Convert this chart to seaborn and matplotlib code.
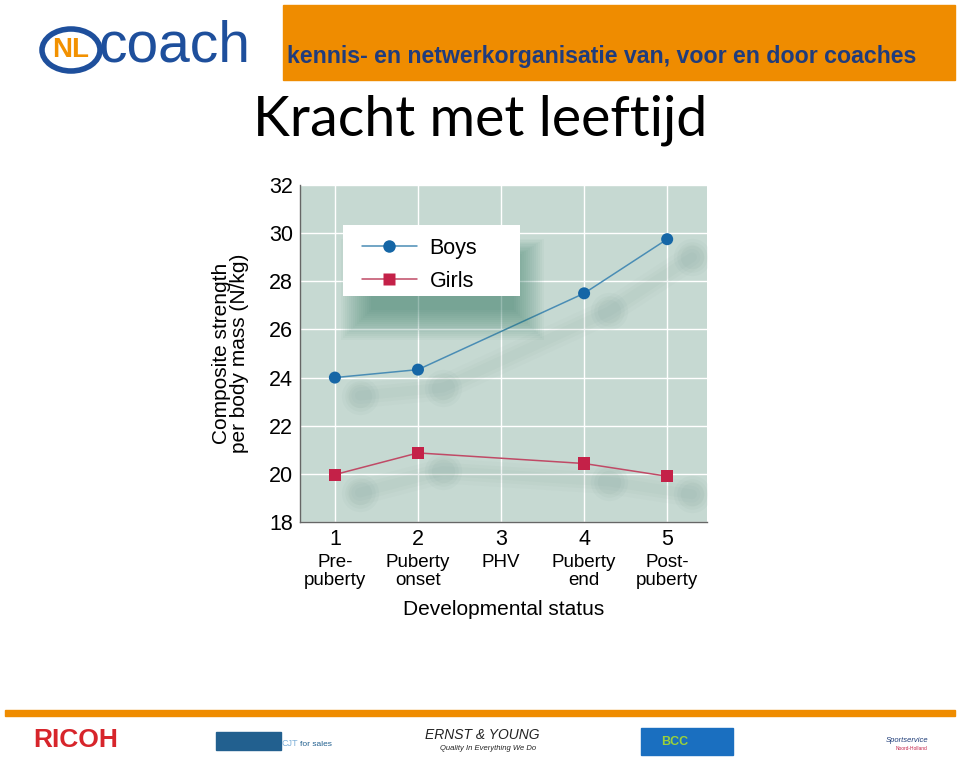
import pandas as pd
import seaborn as sns
import matplotlib.pyplot as plt
from matplotlib.patches import Rectangle, Ellipse
from matplotlib.lines import Line2D
from matplotlib.transforms import blended_transform_factory

stages = [1, 2, 4, 5]
boys = [24.0, 24.33, 27.5, 29.75]
girls = [19.97, 20.87, 20.43, 19.9]
tick_numbers = [1, 2, 3, 4, 5]
stage_names = ["Pre-\npuberty", "Puberty\nonset", "PHV", "Puberty\nend", "Post-\npuberty"]
y_ticks = [18, 20, 22, 24, 26, 28, 30, 32]

df = pd.concat([
    pd.DataFrame({"stage": stages, "strength": boys, "sex": "Boys"}),
    pd.DataFrame({"stage": stages, "strength": girls, "sex": "Girls"}),
])

sns.set_style("white")
plt.rcParams["font.family"] = ["Liberation Sans", "DejaVu Sans"]
plt.rcParams["text.color"] = "black"
plt.rcParams["axes.labelcolor"] = "black"
plt.rcParams["xtick.color"] = "black"
plt.rcParams["ytick.color"] = "black"

fig = plt.figure(figsize=(9.6, 7.69), dpi=100)
ax = fig.add_axes([0.3125, 0.3212, 0.424, 0.4382])
ax.set_facecolor("#c6d9d2")

palette = {"Boys": "#1566a6", "Girls": "#c42148"}
line_cols = {"Boys": "#4a8db5", "Girls": "#c04a66"}

# soft shadows under the points
for vals in [boys, girls]:
    for lw, a in [(18, 0.025), (12, 0.03), (7, 0.03)]:
        ax.plot([s + 0.3 for s in stages], [v - 0.75 for v in vals], color="#4f7a6d",
                lw=lw, alpha=a, solid_capstyle="round", zorder=1)
        ax.scatter([s + 0.3 for s in stages], [v - 0.75 for v in vals], color="#4f7a6d",
                   s=lw * 40, alpha=a * 1.5, lw=0, zorder=1)

ax.grid(True, color="white", lw=1)
ax.set_axisbelow(True)

for sex in ["Boys", "Girls"]:
    sub = df[df["sex"] == sex]
    sns.lineplot(data=sub, x="stage", y="strength", ax=ax, color=line_cols[sex],
                 lw=1.1, zorder=3, legend=False)
sns.scatterplot(data=df, x="stage", y="strength", hue="sex", style="sex",
                markers={"Boys": "o", "Girls": "s"}, palette=palette, s=75,
                edgecolor="none", ax=ax, zorder=4, legend=False)

ax.set_xlim(0.58, 5.48)
ax.set_ylim(18, 32)
ax.set_xticks(tick_numbers)
ax.set_xticklabels([str(t) for t in tick_numbers], fontsize=15.5)
ax.set_yticks(y_ticks)
ax.set_yticklabels([str(t) for t in y_ticks], fontsize=15.5)
ax.tick_params(length=0, pad=5)
for s in ["top", "right"]:
    ax.spines[s].set_visible(False)
for s in ["left", "bottom"]:
    ax.spines[s].set_color("#666666")
    ax.spines[s].set_linewidth(1)

trans = blended_transform_factory(ax.transData, ax.transAxes)
for t, name in zip(tick_numbers, stage_names):
    ax.text(t, -0.095, name, transform=trans, ha="center", va="top", fontsize=13.5,
            linespacing=1.05)

ax.set_xlabel("Developmental status", fontsize=15, labelpad=36)
ax.set_ylabel("Composite strength\nper body mass (N/kg)", fontsize=15, labelpad=14,
              linespacing=0.95)

# legend shadow
n = 16
for i in range(n):
    d = 0.05 - i * 0.005
    ax.add_patch(Rectangle((0.15 - d, 0.60 - d * 1.2), 0.40 + 2 * d, 0.20 + 2.0 * d,
                           transform=ax.transAxes, color="#1f6e55", alpha=0.035,
                           lw=0, zorder=5))
# legend box
ax.add_patch(Rectangle((0.106, 0.671), 0.434, 0.21, transform=ax.transAxes,
                       color="white", lw=0, zorder=5.5))
handles = [Line2D([], [], color=line_cols["Boys"], lw=1.1, marker="o", markersize=9,
                  markerfacecolor=palette["Boys"], markeredgecolor="none"),
           Line2D([], [], color=line_cols["Girls"], lw=1.1, marker="s", markersize=8,
                  markerfacecolor=palette["Girls"], markeredgecolor="none")]
leg = ax.legend(handles, ["Boys", "Girls"], loc="upper left",
                bbox_to_anchor=(0.152, 0.843), fontsize=15.5, frameon=False,
                handlelength=2.55, handletextpad=0.6,
                labelspacing=0.55, borderpad=0, borderaxespad=0)
leg.set_zorder(6)

# header
fig.patches.append(Rectangle((283 / 960, 1 - 80 / 769), 672 / 960, 75 / 769,
                             transform=fig.transFigure, color="#ef8c00", zorder=0))
fig.text(287 / 960, 1 - 57 / 769, "kennis- en netwerkorganisatie van, voor en door coaches",
         fontsize=16.7, fontweight="bold", color="#203c7c", va="center", ha="left")
fig.patches.append(Ellipse((71 / 960, 1 - 50 / 769), 58 / 960, 42 / 769,
                           transform=fig.transFigure, facecolor="white",
                           edgecolor="#1e4f9c", lw=4))
fig.text(71 / 960, 1 - 50 / 769, "NL", fontsize=20, fontweight="bold", color="#f29100",
         ha="center", va="center")
fig.text(99 / 960, 1 - 47 / 769, "coach", fontsize=41, color="#1e4f9c",
         ha="left", va="center")
fig.text(480 / 960, 1 - 120 / 769, "Kracht met leeftijd", fontsize=40, color="black",
         ha="center", va="center", family=["Lato", "DejaVu Sans"])

# footer
fig.patches.append(Rectangle((5 / 960, 1 - 716 / 769), 950 / 960, 6 / 769,
                             transform=fig.transFigure, color="#ef8c00", zorder=0))
fig.text(76 / 960, 1 - 740 / 769, "RICOH", fontsize=19, fontweight="bold", color="#d7252b",
         ha="center", va="center")
fig.patches.append(Rectangle((216 / 960, 1 - 750 / 769), 65 / 960, 18 / 769,
                             transform=fig.transFigure, color="#22608f"))
fig.text(282 / 960, 1 - 744 / 769, "CJT", fontsize=6.5, color="#7fb0d8", ha="left",
         va="center")
fig.text(300 / 960, 1 - 744 / 769, "for sales", fontsize=6, color="#22608f", ha="left",
         va="center")
fig.text(482 / 960, 1 - 735 / 769, "ERNST & YOUNG", fontsize=10, style="italic",
         color="#222222", ha="center", va="center")
fig.text(488 / 960, 1 - 748 / 769, "Quality In Everything We Do", fontsize=5.5,
         style="italic", color="#222222", ha="center", va="center")
fig.patches.append(Rectangle((641 / 960, 1 - 755 / 769), 92 / 960, 27 / 769,
                             transform=fig.transFigure, color="#1a6fc0"))
fig.text(675 / 960, 1 - 742 / 769, "BCC", fontsize=9, fontweight="bold", color="#9bd13a",
         ha="center", va="center")
fig.text(907 / 960, 1 - 741 / 769, "Sportservice", fontsize=5.5, style="italic",
         color="#1e3c78", ha="center", va="center")
fig.text(912 / 960, 1 - 748 / 769, "Noord-Holland", fontsize=3.5, color="#c42148",
         ha="center", va="center")

fig.savefig("out.png", dpi=100)
